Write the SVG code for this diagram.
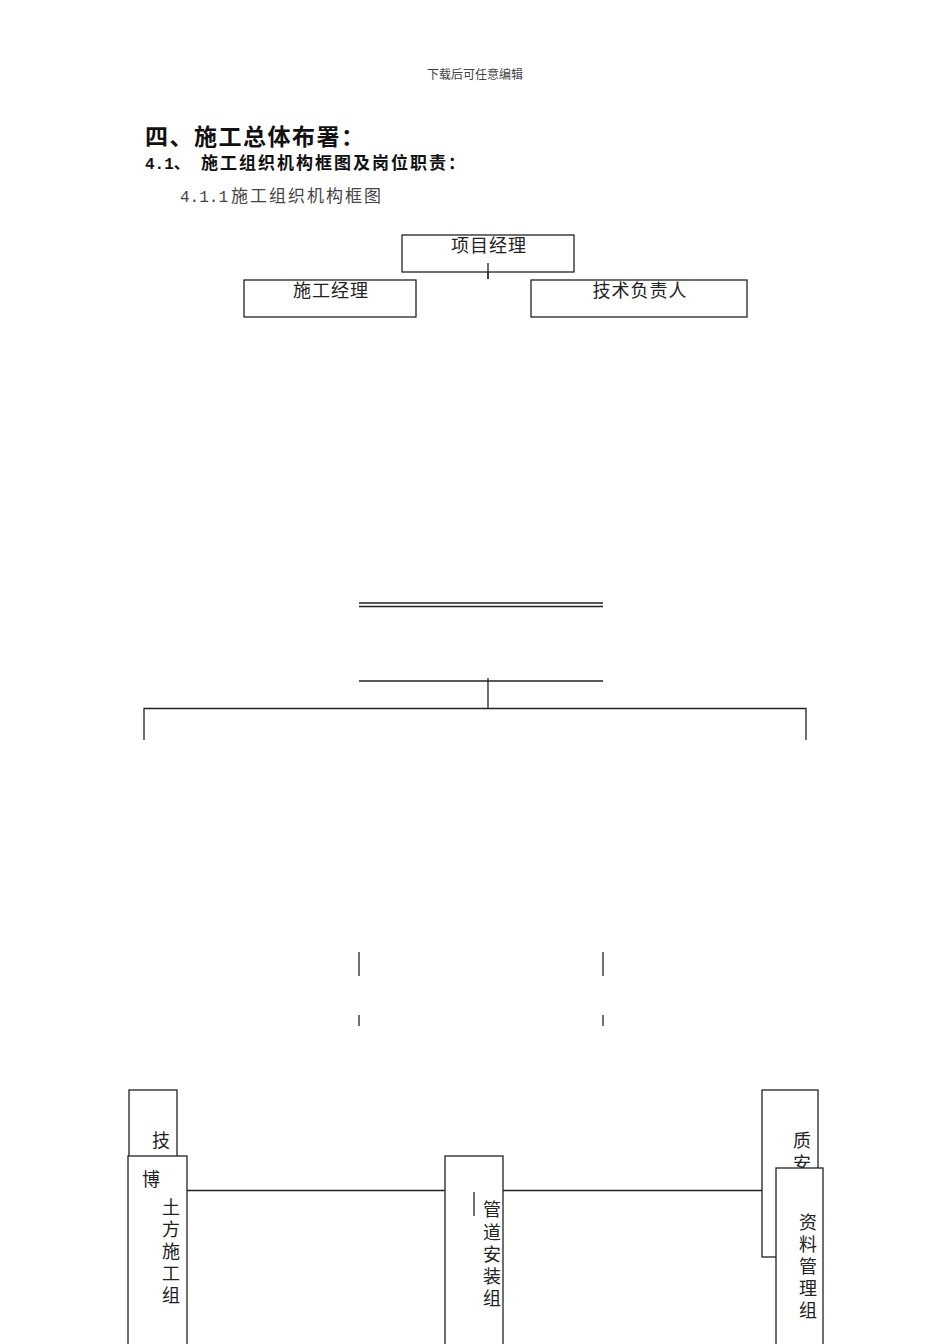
<svg xmlns="http://www.w3.org/2000/svg" width="950" height="1344" viewBox="0 0 950 1344">
<style>
text{font-family:"Liberation Serif","Noto Sans CJK SC",serif;fill:#222}
.mono{font-family:"Liberation Mono","Noto Sans CJK SC",monospace}
.box{fill:#fff;stroke:#222;stroke-width:1.3}
.ln{stroke:#222;stroke-width:1.3;fill:none}
.lbl{font-size:18px;letter-spacing:1px;text-anchor:middle}
.v{font-size:18px;text-anchor:middle}
</style>
<rect width="950" height="1344" fill="#fff"/>
<text x="475" y="79" font-size="12" text-anchor="middle" style="fill:#444">下载后可任意编辑</text>
<text x="145" y="145" font-size="23" font-weight="bold" letter-spacing="1.5" style="fill:#111">四、施工总体布署：</text>
<text x="145" y="169" font-size="16" font-weight="bold" style="fill:#111"><tspan class="mono">4.1</tspan>、<tspan x="201" font-size="17" letter-spacing="2">施工组织机构框图及岗位职责：</tspan></text>
<text x="180" y="202" font-size="17" style="fill:#444"><tspan class="mono" font-size="16">4.1.1</tspan><tspan x="231" letter-spacing="2">施工组织机构框图</tspan></text>

<g id="connectors">
<line class="ln" x1="488" y1="263" x2="488" y2="279"/>
<line class="ln" x1="359" y1="603" x2="603" y2="603"/>
<line class="ln" x1="359" y1="606.5" x2="603" y2="606.5"/>
<line class="ln" x1="359" y1="681" x2="603" y2="681"/>
<line class="ln" x1="488" y1="678" x2="488" y2="708"/>
<polyline class="ln" points="144,740 144,708.5 806,708.5 806,740"/>
<line class="ln" x1="359" y1="952" x2="359" y2="976"/>
<line class="ln" x1="603" y1="952" x2="603" y2="976"/>
<line class="ln" x1="359" y1="1015" x2="359" y2="1026"/>
<line class="ln" x1="603" y1="1015" x2="603" y2="1026"/>
<line class="ln" x1="187" y1="1190.5" x2="445" y2="1190.5"/>
<line class="ln" x1="503" y1="1190.5" x2="776" y2="1190.5"/>
</g>

<g id="n-xmjl">
<rect class="box" x="402" y="235" width="172" height="37"/>
<text class="lbl" x="489" y="252">项目经理</text>
</g>
<line class="ln" x1="488" y1="263" x2="488" y2="279"/>
<g id="n-sgjl">
<rect class="box" x="244" y="280" width="172" height="37"/>
<text class="lbl" x="331" y="297">施工经理</text>
</g>
<g id="n-jsfzr">
<rect class="box" x="531" y="280" width="216" height="37"/>
<text class="lbl" x="640" y="297">技术负责人</text>
</g>

<g id="n-ji">
<rect class="box" x="129" y="1090" width="48" height="80"/>
<text class="v" x="161" y="1147">技</text>
</g>
<g id="n-tf">
<rect class="box" x="128" y="1156" width="59" height="200"/>
<text class="v" x="151" y="1186">博</text>
<text class="v"><tspan x="171" y="1214">土</tspan><tspan x="171" y="1236">方</tspan><tspan x="171" y="1258">施</tspan><tspan x="171" y="1280">工</tspan><tspan x="171" y="1302">组</tspan></text>
</g>
<g id="n-gd">
<rect class="box" x="445" y="1156" width="58" height="200"/>
<line class="ln" x1="474" y1="1192" x2="474" y2="1216"/>
<text class="v"><tspan x="492" y="1216">管</tspan><tspan x="492" y="1239">道</tspan><tspan x="492" y="1261">安</tspan><tspan x="492" y="1283">装</tspan><tspan x="492" y="1305">组</tspan></text>
</g>
<g id="n-za">
<rect class="box" x="762" y="1090" width="56" height="167"/>
<text class="v"><tspan x="802" y="1147">质</tspan><tspan x="802" y="1170">安</tspan></text>
</g>
<g id="n-zl">
<rect class="box" x="776" y="1168" width="47" height="190"/>
<text class="v"><tspan x="808" y="1229">资</tspan><tspan x="808" y="1251">料</tspan><tspan x="808" y="1273">管</tspan><tspan x="808" y="1295">理</tspan><tspan x="808" y="1317">组</tspan></text>
</g>
</svg>
